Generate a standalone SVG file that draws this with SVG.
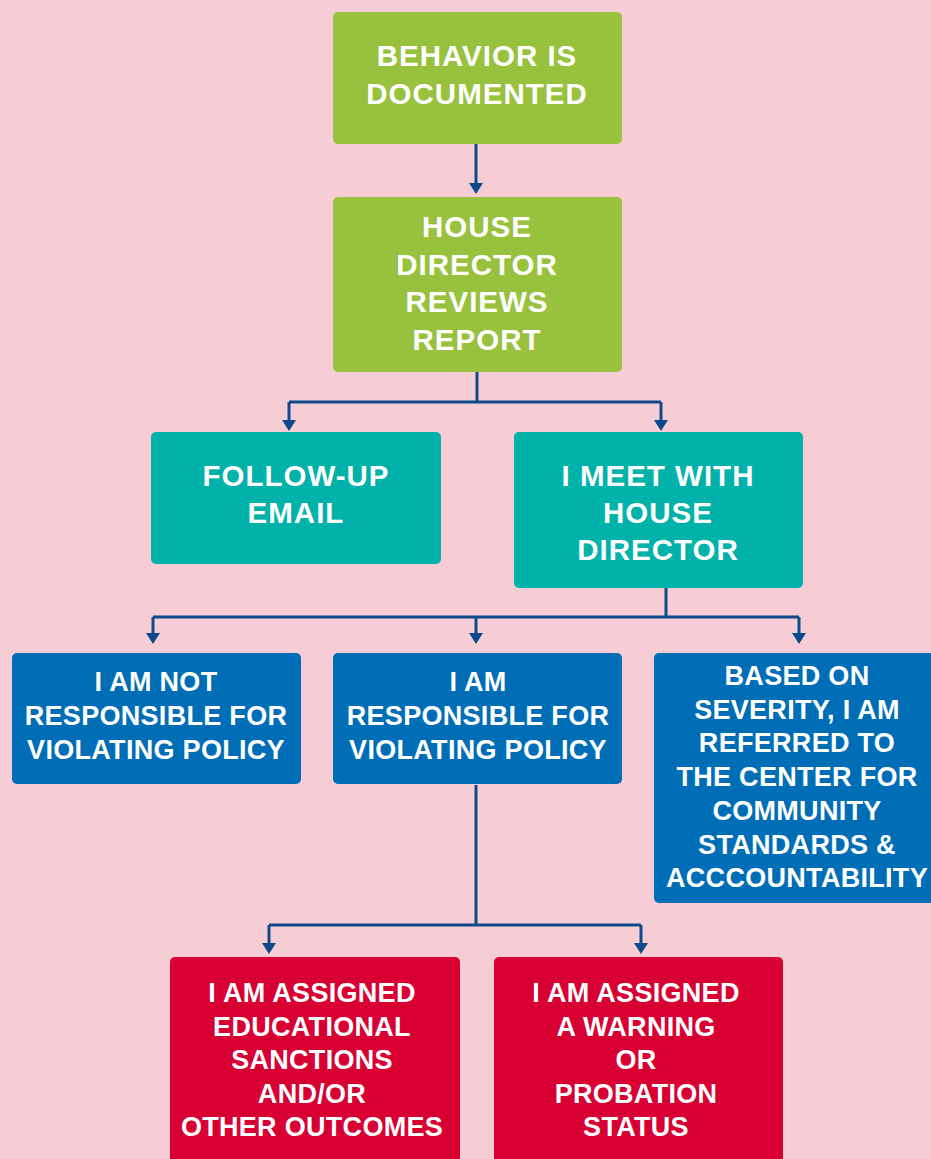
<svg xmlns="http://www.w3.org/2000/svg" width="931" height="1159" viewBox="0 0 931 1159">
<style>
.bg{fill:#F6CDD5}
.g{fill:#98C13D}
.t{fill:#00B2A9}
.b{fill:#006EB6}
.r{fill:#D80032}
text{font-family:"Liberation Sans",Arial,sans-serif;font-weight:bold;fill:#FFFFFF;text-anchor:middle}
.lg{font-size:29.5px;letter-spacing:1px}
.sm{font-size:27px;letter-spacing:0.3px}
.c{fill:none;stroke:#0D4A8C;stroke-width:3}
</style>
<defs>
<marker id="ah" markerUnits="userSpaceOnUse" markerWidth="12" markerHeight="14" refX="2" refY="7" orient="auto">
<path d="M0,0 L11,7 L0,14 Z" fill="#0D4A8C"/>
</marker>
</defs>
<rect class="bg" x="0" y="0" width="931" height="1159"/>
<g id="connectors">
<path class="c" d="M476,144 L476,185" marker-end="url(#ah)"/>
<path class="c" d="M477,372 L477,402"/>
<path class="c" d="M289,402 L661,402"/>
<path class="c" d="M289,402 L289,422" marker-end="url(#ah)"/>
<path class="c" d="M661,402 L661,422" marker-end="url(#ah)"/>
<path class="c" d="M666,588 L666,617"/>
<path class="c" d="M153,617 L799,617"/>
<path class="c" d="M153,617 L153,635" marker-end="url(#ah)"/>
<path class="c" d="M476,617 L476,635" marker-end="url(#ah)"/>
<path class="c" d="M799,617 L799,635" marker-end="url(#ah)"/>
<path class="c" d="M476,785 L476,925"/>
<path class="c" d="M269,925 L641,925"/>
<path class="c" d="M269,925 L269,945" marker-end="url(#ah)"/>
<path class="c" d="M641,925 L641,945" marker-end="url(#ah)"/>
</g>
<g id="n1">
<rect class="g" x="333" y="12" width="289" height="132" rx="5"/>
<text class="lg" x="477" y="66">BEHAVIOR IS</text>
<text class="lg" x="477" y="103.5">DOCUMENTED</text>
</g>
<g id="n2">
<rect class="g" x="333" y="197" width="289" height="175" rx="5"/>
<text class="lg" x="477" y="237">HOUSE</text>
<text class="lg" x="477" y="274.5">DIRECTOR</text>
<text class="lg" x="477" y="312">REVIEWS</text>
<text class="lg" x="477" y="349.5">REPORT</text>
</g>
<g id="n3">
<rect class="t" x="151" y="432" width="290" height="132" rx="5"/>
<text class="lg" x="296" y="486">FOLLOW-UP</text>
<text class="lg" x="296" y="523">EMAIL</text>
</g>
<g id="n4">
<rect class="t" x="514" y="432" width="289" height="156" rx="5"/>
<text class="lg" x="658" y="486">I MEET WITH</text>
<text class="lg" x="658" y="523">HOUSE</text>
<text class="lg" x="658" y="560">DIRECTOR</text>
</g>
<g id="n5">
<rect class="b" x="12" y="653" width="289" height="131" rx="5"/>
<text class="sm" x="156" y="691">I AM NOT</text>
<text class="sm" x="156" y="725">RESPONSIBLE FOR</text>
<text class="sm" x="156" y="758.5">VIOLATING POLICY</text>
</g>
<g id="n6">
<rect class="b" x="333" y="653" width="289" height="131" rx="5"/>
<text class="sm" x="478" y="691">I AM</text>
<text class="sm" x="478" y="725">RESPONSIBLE FOR</text>
<text class="sm" x="478" y="758.5">VIOLATING POLICY</text>
</g>
<g id="n7">
<rect class="b" x="654" y="653" width="289" height="250" rx="5"/>
<text class="sm" x="797" y="685">BASED ON</text>
<text class="sm" x="797" y="718.5">SEVERITY, I AM</text>
<text class="sm" x="797" y="752">REFERRED TO</text>
<text class="sm" x="797" y="786">THE CENTER FOR</text>
<text class="sm" x="797" y="820">COMMUNITY</text>
<text class="sm" x="797" y="853.5">STANDARDS &amp;</text>
<text class="sm" x="797" y="887">ACCCOUNTABILITY</text>
</g>
<g id="n8">
<rect class="r" x="170" y="957" width="290" height="215" rx="5"/>
<text class="sm" x="312" y="1002">I AM ASSIGNED</text>
<text class="sm" x="312" y="1035.5">EDUCATIONAL</text>
<text class="sm" x="312" y="1069">SANCTIONS</text>
<text class="sm" x="312" y="1102.5">AND/OR</text>
<text class="sm" x="312" y="1136">OTHER OUTCOMES</text>
</g>
<g id="n9">
<rect class="r" x="494" y="957" width="289" height="215" rx="5"/>
<text class="sm" x="636" y="1002">I AM ASSIGNED</text>
<text class="sm" x="636" y="1035.5">A WARNING</text>
<text class="sm" x="636" y="1069">OR</text>
<text class="sm" x="636" y="1102.5">PROBATION</text>
<text class="sm" x="636" y="1136">STATUS</text>
</g>
</svg>
